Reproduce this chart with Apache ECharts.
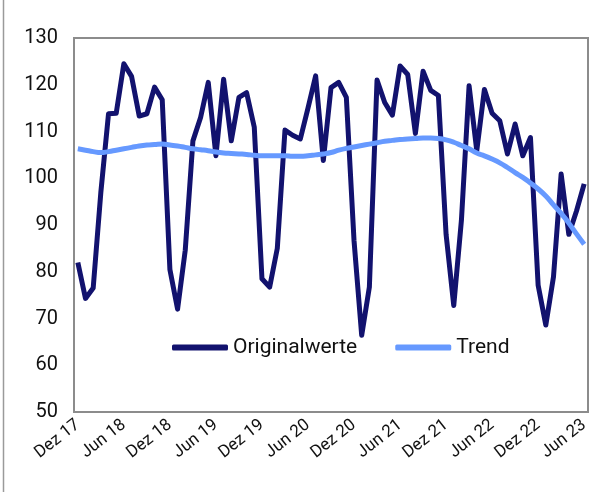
<!DOCTYPE html>
<html>
<head>
<meta charset="utf-8">
<script src="https://cdn.jsdelivr.net/npm/echarts@6/dist/echarts.min.js"></script>
<style>
html,body{margin:0;padding:0;background:#fff;}
#c{width:615px;height:492px;}
</style>
</head>
<body>
<div id="c"></div>
<script>
var monthNames = ["Jan","Feb","Mär","Apr","Mai","Jun","Jul","Aug","Sep","Okt","Nov","Dez"];
var startYear = 17, startMonth = 11; // Dez 17
var monthCount = 67;
var categories = [];
for (var i = 0; i < monthCount; i++) {
  var m = (startMonth + i) % 12;
  var y = startYear + Math.floor((startMonth + i) / 12);
  categories.push(monthNames[m] + " " + y);
}
var originalwerte = [
  82, 74.3, 76.5, 97, 113.8, 113.9, 124.5, 121.8, 113.3, 113.8, 119.5, 116.8,
  80.5, 72, 84.6, 108, 113, 120.5, 104.8, 121.2, 108, 117.3, 118.3, 110.9,
  78.5, 76.7, 85, 110.3, 109.2, 108.4, 115, 121.9, 103.8, 119.4, 120.5, 117.3,
  86.7, 66.4, 76.7, 121, 116.2, 113.5, 124, 122.2, 109.6, 122.9, 118.8, 117.7,
  88, 72.8, 91, 119.8, 105.9, 119, 113.9, 112.3, 105.2, 111.6, 104.8, 108.7,
  77.1, 68.6, 78.9, 100.9, 88, 93, 98.8
];
var trend = [
  106.3, 106, 105.7, 105.5, 105.7, 106, 106.3, 106.6, 106.9, 107.1, 107.2, 107.3,
  107.1, 106.9, 106.6, 106.3, 106.1, 105.9, 105.6, 105.4, 105.3, 105.2, 105.1, 104.9,
  104.8, 104.8, 104.8, 104.8, 104.7, 104.7, 104.8, 105, 105.2, 105.5, 106, 106.4,
  106.7, 107, 107.3, 107.6, 107.9, 108.1, 108.3, 108.4, 108.5, 108.6, 108.6, 108.5,
  108.2, 107.7, 107, 106.3, 105.4, 104.8, 104.1, 103.3, 102.3, 101.2, 100.2, 99,
  97.7, 96.2, 94.3, 92.5, 90.4, 88.1, 85.9
];
var yTicks = [50, 60, 70, 80, 90, 100, 110, 120, 130];

var chart = echarts.init(document.getElementById('c'), null, {renderer: 'canvas'});
var font = 'Roboto, "Noto Sans", sans-serif';
chart.setOption({
  animation: false,
  backgroundColor: '#fff',
  textStyle: {fontFamily: font},
  graphic: [{
    type: 'line', shape: {x1: 3.5, y1: 0, x2: 3.5, y2: 492},
    style: {stroke: '#9a9a9a', lineWidth: 1.5}
  }],
  grid: {left: 74, right: 27, top: 38, bottom: 80, show: true, borderColor: '#8c8c8c', borderWidth: 2},
  legend: {
    left: 172, top: 337, padding: 0,
    itemWidth: 56, itemHeight: 6, itemGap: 38,
    textStyle: {fontSize: 21, color: '#111', fontFamily: font},
    data: [
      {name: 'Originalwerte', icon: 'roundRect', itemStyle: {color: '#12126e'}},
      {name: 'Trend', icon: 'roundRect', itemStyle: {color: '#6699ff'}}
    ]
  },
  xAxis: {
    type: 'category',
    data: categories,
    boundaryGap: true,
    axisLine: {lineStyle: {color: '#8c8c8c', width: 2}},
    axisTick: {interval: 5, length: 5, lineStyle: {color: '#8c8c8c', width: 2}},
    axisLabel: {interval: 5, rotate: 38, fontSize: 17, color: '#111', margin: 11, fontFamily: font},
    splitLine: {show: false}
  },
  yAxis: {
    type: 'value',
    min: yTicks[0], max: yTicks[yTicks.length - 1], interval: 10,
    axisLine: {show: true, lineStyle: {color: '#8c8c8c', width: 2}},
    axisTick: {show: false},
    axisLabel: {fontSize: 20, color: '#111', margin: 16, fontFamily: font},
    splitLine: {show: false}
  },
  series: [
    {
      name: 'Originalwerte', type: 'line', data: originalwerte,
      showSymbol: false, symbol: 'none',
      lineStyle: {color: '#12126e', width: 5, join: 'round'},
      itemStyle: {color: '#12126e'}
    },
    {
      name: 'Trend', type: 'line', data: trend, smooth: true,
      showSymbol: false, symbol: 'none',
      lineStyle: {color: '#6699ff', width: 5},
      itemStyle: {color: '#6699ff'}
    }
  ]
});
</script>
</body>
</html>
